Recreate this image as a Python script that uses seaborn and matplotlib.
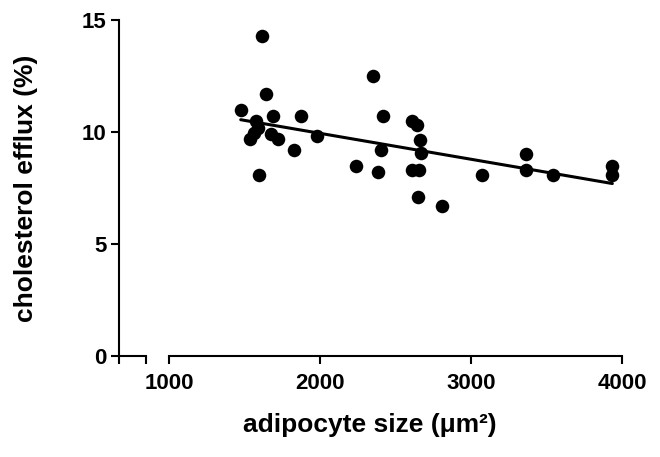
import numpy as np
import pandas as pd
import seaborn as sns
import matplotlib
matplotlib.use('Agg')
import matplotlib.pyplot as plt

# values
adipocyte_size = [1475, 1614, 1640, 1574, 1590, 1560, 1691, 1874, 1536, 1675,
                  1724, 1977, 1828, 1596, 2238, 2349, 2382, 2402, 2414, 2607,
                  2644, 2607, 2658, 2662, 2667, 2650, 2806, 3076, 3364, 3364,
                  3545, 3936, 3936]
chol_efflux = [11.0, 14.3, 11.7, 10.5, 10.2, 9.95, 10.7, 10.7, 9.7, 9.9,
               9.7, 9.8, 9.2, 8.1, 8.5, 12.5, 8.2, 9.2, 10.7, 10.5,
               10.3, 8.3, 8.3, 9.65, 9.05, 7.1, 6.7, 8.1, 9.0, 8.3,
               8.1, 8.5, 8.1]
x_ticks = [1000, 2000, 3000, 4000]
y_ticks = [0, 5, 10, 15]

df = pd.DataFrame({'size': adipocyte_size, 'efflux': chol_efflux})

sns.set_style('ticks')
plt.rcParams['font.family'] = ['Liberation Sans', 'DejaVu Sans']
plt.rcParams['font.weight'] = 'bold'
plt.rcParams['text.color'] = 'black'

W, H = 660, 457
fig = plt.figure(figsize=(W / 100, H / 100), dpi=100)

bottom = 1 - 356 / H
height = (356 - 20) / H
ax0 = fig.add_axes([119 / W, bottom, 27 / W, height])
ax = fig.add_axes([169 / W, bottom, (622 - 169) / W, height])

sns.scatterplot(data=df, x='size', y='efflux', ax=ax, color='black',
                s=95, edgecolor='black', linewidth=0, clip_on=False, zorder=3)
sns.regplot(data=df, x='size', y='efflux', ax=ax, scatter=False, ci=None,
            truncate=True, line_kws={'color': 'black', 'lw': 2.2})

tick_kw = dict(width=1.5, length=6, color='black', labelsize=16,
               labelcolor='black', direction='out')

# left short segment (broken axis)
ax0.set_xlim(0, 1)
ax0.set_ylim(0, 15)
ax0.set_xticks([0, 1])
ax0.set_xticklabels(['', ''])
ax0.set_yticks(y_ticks)
ax0.set_yticklabels([str(t) for t in y_ticks], fontweight='bold')
ax0.tick_params(axis='both', bottom=True, left=True, pad=3, **tick_kw)
for s in ['top', 'right']:
    ax0.spines[s].set_visible(False)
for s in ['left', 'bottom']:
    ax0.spines[s].set_linewidth(1.5)
    ax0.spines[s].set_color('black')
ax0.patch.set_alpha(0)
ax0.set_ylabel('')
ax0.set_xlabel('')

# main segment
ax.set_xlim(1000, 4000)
ax.set_ylim(0, 15)
ax.set_xticks(x_ticks)
ax.set_xticklabels([str(t) for t in x_ticks], fontweight='bold')
ax.set_yticks([])
ax.tick_params(axis='x', bottom=True, pad=6, **tick_kw)
for s in ['top', 'right', 'left']:
    ax.spines[s].set_visible(False)
ax.spines['bottom'].set_linewidth(1.5)
ax.spines['bottom'].set_color('black')
ax.patch.set_alpha(0)
ax.set_ylabel('')
ax.set_xlabel('')

fig.text(370 / W, 1 - 425 / H, 'adipocyte size (μm²)', fontsize=19,
         fontweight='bold', ha='center', va='center', color='black')
fig.text(26 / W, 1 - 188 / H, 'cholesterol efflux (%)', fontsize=19,
         fontweight='bold', ha='center', va='center', rotation=90, color='black')

fig.savefig('out.png', dpi=100)
